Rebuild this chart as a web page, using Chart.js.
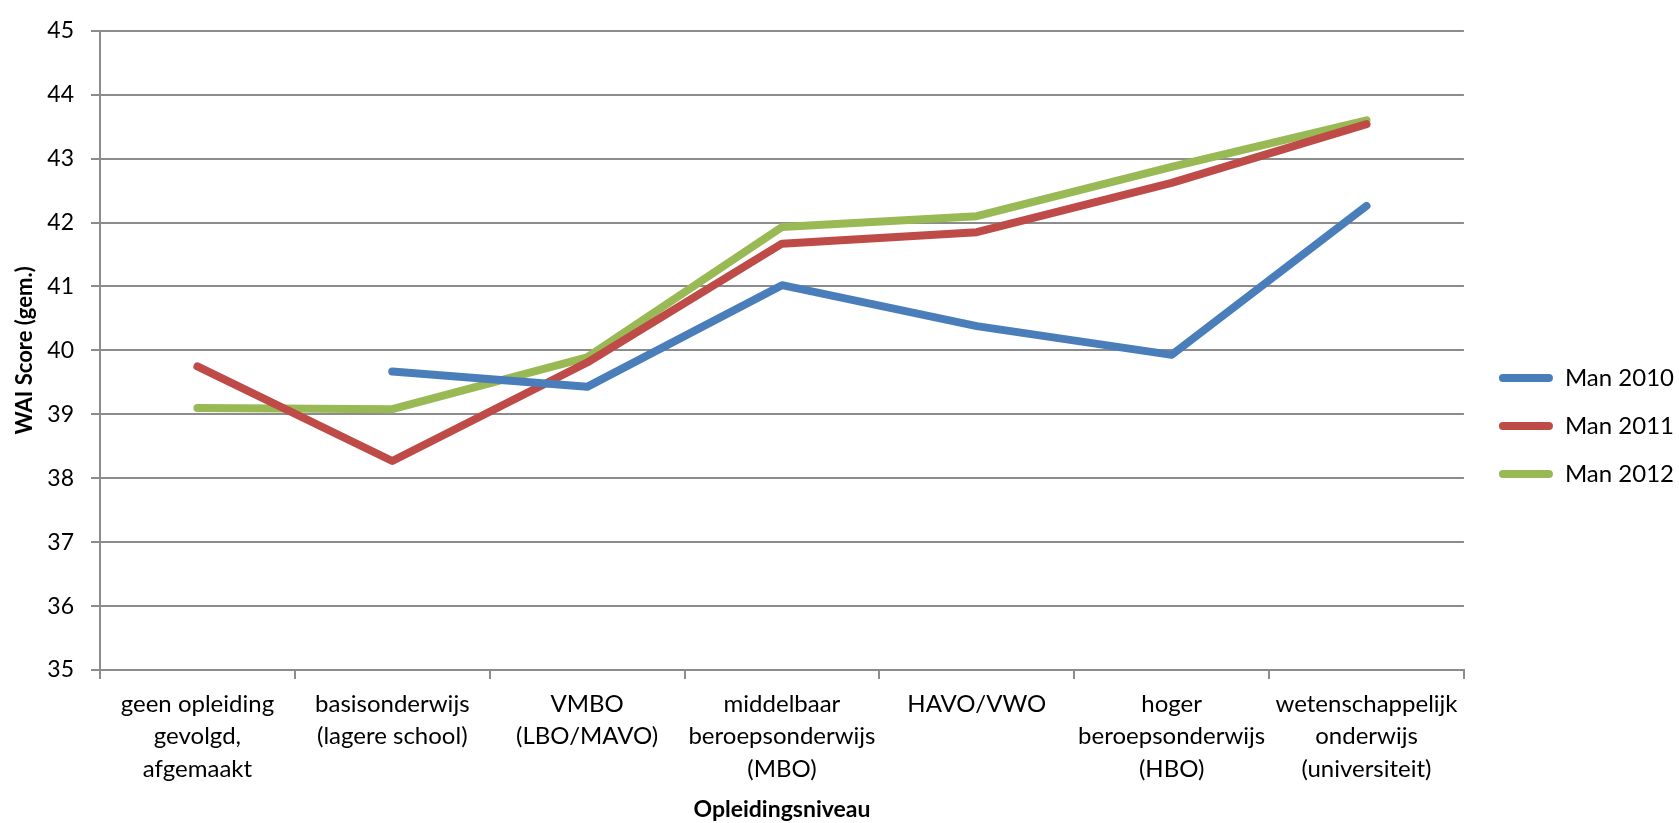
<!DOCTYPE html>
<html>
<head>
<meta charset="utf-8">
<script src="https://cdn.jsdelivr.net/npm/chart.js@4/dist/chart.umd.min.js"></script>
<style>
html,body{margin:0;padding:0;background:#fff;}
#wrap{width:1679px;height:823px;position:relative;}
</style>
</head>
<body>
<div id="wrap"><canvas id="c"></canvas></div>
<script>
// ---- data ----
const categories = [
  ['geen opleiding', 'gevolgd,', 'afgemaakt'],
  ['basisonderwijs', '(lagere school)'],
  ['VMBO', '(LBO/MAVO)'],
  ['middelbaar', 'beroepsonderwijs', '(MBO)'],
  ['HAVO/VWO'],
  ['hoger', 'beroepsonderwijs', '(HBO)'],
  ['wetenschappelijk', 'onderwijs', '(universiteit)']
];
const seriesNames = ['Man 2010', 'Man 2011', 'Man 2012'];
const man2010 = [null, 39.67, 39.43, 41.02, 40.38, 39.93, 42.26];
const man2011 = [39.75, 38.27, 39.81, 41.67, 41.85, 42.62, 43.54];
const man2012 = [39.10, 39.08, 39.89, 41.93, 42.10, 42.87, 43.60];
const yMin = 35, yMax = 45, yStep = 1;
const yTitle = 'WAI Score (gem.)';
const xTitle = 'Opleidingsniveau';

// ---- styles ----
const colors = ['#4A7EBB', '#BE4B48', '#98B954'];
const gridColor = '#8c8c8c';
const FONT = 'Lato';

const legendShift = {
  id: 'legendShift',
  afterLayout(chart) {
    const l = chart.legend;
    if (l) { l.left += 11; l.right += 11; l.top += 4; l.bottom += 4; }
  }
};

function ds(label, data, color) {
  return {
    label, data,
    borderColor: color, backgroundColor: color,
    borderWidth: 8, borderCapStyle: 'round', borderJoinStyle: 'round',
    pointRadius: 0, pointHoverRadius: 0, tension: 0, fill: false, spanGaps: false
  };
}

new Chart(document.getElementById('c'), {
  type: 'line',
  data: {
    labels: categories,
    datasets: [
      ds(seriesNames[0], man2010, colors[0]),
      ds(seriesNames[1], man2011, colors[1]),
      ds(seriesNames[2], man2012, colors[2])
    ]
  },
  plugins: [legendShift],
  options: {
    responsive: true, maintainAspectRatio: false, animation: false, devicePixelRatio: 1,
    layout: { padding: { top: 21, right: 6, bottom: 0, left: 0 } },
    plugins: {
      tooltip: { enabled: false },
      legend: {
        position: 'right',
        labels: {
          font: { family: FONT, size: 24 },
          color: '#000',
          boxWidth: 54, boxHeight: 8, padding: 24,
          useBorderRadius: true, borderRadius: 4,
          generateLabels(chart) {
            return chart.data.datasets.map((d, i) => ({
              text: d.label, fillStyle: d.borderColor, strokeStyle: d.borderColor,
              lineWidth: 0, hidden: false, datasetIndex: i, fontColor: '#000', borderRadius: 4
            }));
          }
        }
      }
    },
    scales: {
      x: {
        type: 'category', offset: true,
        grid: { display: true, offset: true, drawOnChartArea: false, drawTicks: true, tickLength: 9, color: gridColor, lineWidth: 2 },
        border: { display: true, color: gridColor, width: 2 },
        ticks: { font: { family: FONT, size: 24, lineHeight: 1.35 }, color: '#000', maxRotation: 0, minRotation: 0, autoSkip: false, padding: 9 },
        title: { display: true, text: xTitle, font: { family: FONT, size: 23, weight: 'bold', lineHeight: 1.2 }, color: '#000', padding: { top: 0, bottom: 0 } },
        afterFit(s) { s.height = 153; }
      },
      y: {
        min: yMin, max: yMax,
        grid: { color: gridColor, lineWidth: 2, drawTicks: true, tickLength: 9 },
        border: { display: true, color: gridColor, width: 2 },
        ticks: { stepSize: yStep, font: { family: FONT, size: 23 }, color: '#000', padding: 17 },
        title: { display: true, text: yTitle, font: { family: FONT, size: 22, weight: 'bold', lineHeight: 1.2 }, color: '#000', padding: { top: 12, bottom: 0 } },
        afterFit(s) { s.width = 100; }
      }
    }
  }
});
</script>
</body>
</html>
